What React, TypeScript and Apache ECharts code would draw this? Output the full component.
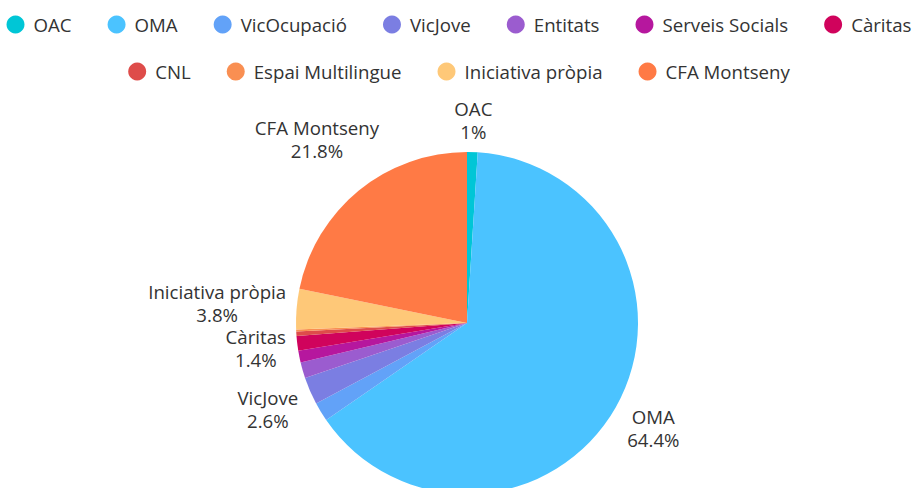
import React, { useEffect, useRef } from "react";
import * as echarts from "echarts";

const categories = [
  "OAC",
  "OMA",
  "VicOcupació",
  "VicJove",
  "Entitats",
  "Serveis Socials",
  "Càritas",
  "CNL",
  "Espai Multilingue",
  "Iniciativa pròpia",
  "CFA Montseny",
];
const values = [1, 64.4, 1.8, 2.6, 1.5, 1.1, 1.4, 0.4, 0.2, 3.8, 21.8];
const colors = [
  "#00c6d6",
  "#4bc3ff",
  "#62a2f8",
  "#7b7ee2",
  "#9b5ccf",
  "#b6179e",
  "#d0035c",
  "#de4c4a",
  "#f98f52",
  "#fec878",
  "#ff7a45",
];
const showLabel = [true, true, false, true, false, false, true, false, false, true, true];
const legendRow1 = categories.slice(0, 7);
const legendRow2 = categories.slice(7);

const FONT = "'Open Sans', 'Noto Sans', sans-serif";
const FONT_SIZE = 18.67;
const CX = 467;
const CY = 323;
const R = 171;
const LABEL_GAP = 9;

export default function App() {
  const ref = useRef<HTMLDivElement>(null);
  useEffect(() => {
    if (!ref.current) return;
    const chart = echarts.init(ref.current, undefined, { renderer: "svg" });
    const total = values.reduce((a, b) => a + b, 0);
    const cum: number[] = [];
    let acc = 0;
    values.forEach((v) => {
      cum.push(acc);
      acc += v;
    });
    const legendCommon = {
      left: "center",
      icon: "circle",
      itemWidth: 26,
      itemHeight: 18,
      itemGap: 36,
      textStyle: { fontFamily: FONT, fontSize: FONT_SIZE, color: "#333", lineHeight: 18 },
    };
    chart.setOption({
      animation: false,
      color: colors,
      legend: [
        { ...legendCommon, top: 10, data: legendRow1 },
        { ...legendCommon, top: 57, data: legendRow2 },
      ],
      series: [
        {
          type: "pie",
          center: [CX, CY],
          radius: [0, R],
          startAngle: 90,
          clockwise: true,
          avoidLabelOverlap: false,
          percentPrecision: 1,
          label: {
            show: true,
            position: "outside",
            formatter: "{b}\n{d}%",
            fontFamily: FONT,
            fontSize: FONT_SIZE,
            lineHeight: 23,
            color: "#333",
            align: "center",
          },
          labelLine: { show: false },
          labelLayout: (params: any) => {
            const i = params.dataIndex;
            const theta = (2 * Math.PI * (cum[i] + values[i] / 2)) / total;
            const s = Math.sin(theta);
            const c = -Math.cos(theta);
            const hw = params.labelRect.width / 2;
            const hh = params.labelRect.height / 2;
            const d = R + LABEL_GAP + hw * Math.abs(s) + hh * Math.abs(c);
            return {
              x: CX + s * d,
              y: CY + c * d,
              align: "center",
              verticalAlign: "middle",
            };
          },
          data: categories.map((name, i) => ({
            name,
            value: values[i],
            label: { show: showLabel[i] },
          })),
        },
      ],
    });
    return () => chart.dispose();
  }, []);
  return (
    <div
      ref={ref}
      style={{ position: "fixed", left: 0, top: 0, width: 918, height: 488, background: "#fff" }}
    />
  );
}
